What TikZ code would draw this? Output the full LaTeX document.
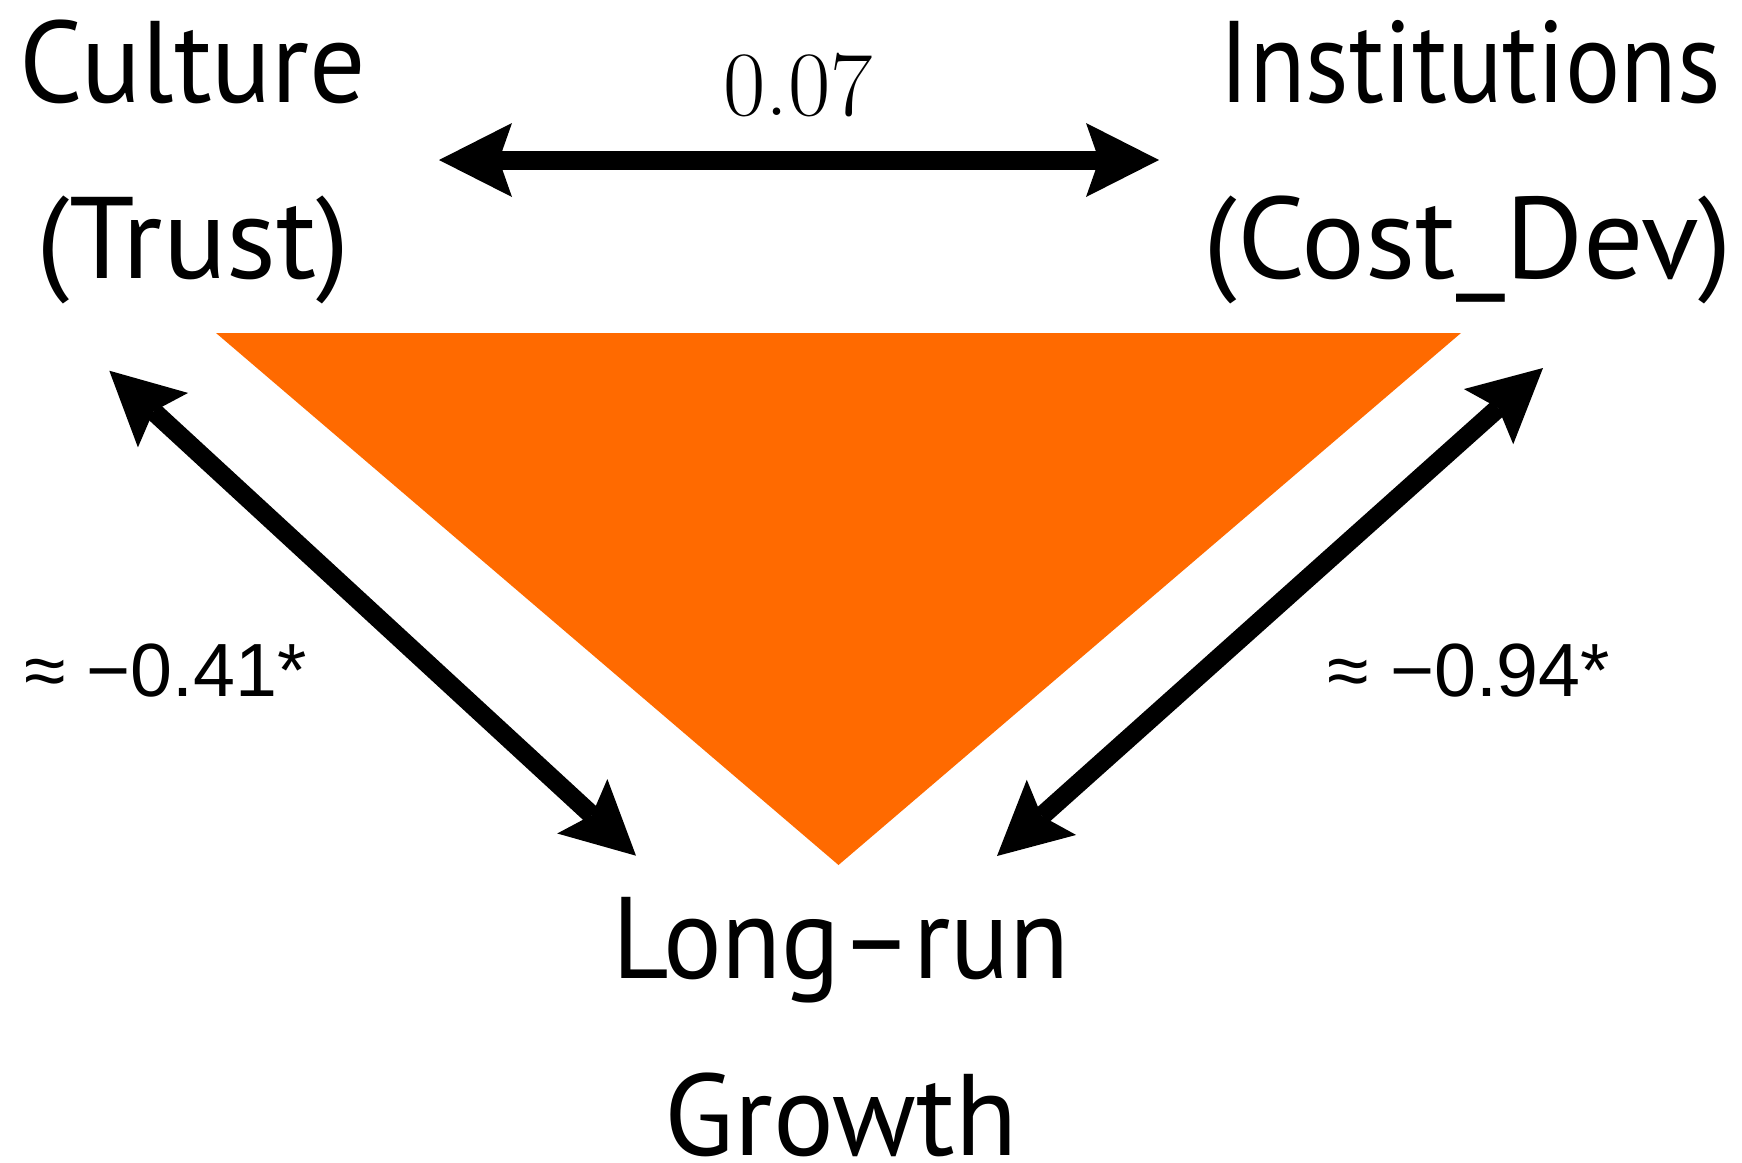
\documentclass[tikz,border=0pt]{standalone}
\usepackage{fontspec}
\setmainfont{PT Sans}
\newfontfamily\numfont{Liberation Sans}
\usetikzlibrary{arrows.meta}
\definecolor{triorange}{RGB}{255,106,0}
\newcommand{\xs}[2]{\scalebox{#1}[1]{#2}}
\tikzset{
  lbl/.style={anchor=base, inner sep=0pt, font=\fontsize{58pt}{70pt}\selectfont},
  coef/.style={anchor=base, inner sep=0pt, font=\numfont\fontsize{37.7pt}{44pt}\selectfont},
  topcoef/.style={anchor=base, inner sep=0pt, font=\fontfamily{lmr}\selectfont\fontsize{46pt}{54pt}\selectfont},
  dbl/.style={line width=9.5pt,
    {Stealth[length=36.5pt,width=37pt,inset=6.5pt,line width=0pt]}-{Stealth[length=36.5pt,width=37pt,inset=6.5pt,line width=0pt]}}
}
\begin{document}
\begin{tikzpicture}[x=0.5pt,y=-0.5pt]
\useasboundingbox (0,0) rectangle (1742,1163);
% triangle
\fill[triorange] (216,333) -- (1461,333) -- (838.5,865) -- cycle;
% labels
\node[lbl] (culture) at (193,102) {\xs{0.96}{Culture}};
\node[lbl] (trust) at (193,278) {\xs{1.02}{(Trust)}};
\node[lbl] (inst) at (1470,102) {\xs{0.89}{Institutions}};
\node[lbl] (costdev) at (1468,278) {\xs{1.03}{(Cost\_Dev)}};
\node[lbl] (longrun) at (841,978) {\xs{0.945}{Long–run}};
\node[lbl] (growth) at (841,1155) {\xs{0.98}{Growth}};
\node[topcoef] (c07) at (798,115) {0.07};
\node[coef] (c41) at (165.5,696) {≈ −0.41*};
\node[coef] (c94) at (1469,696) {≈ −0.94*};
% arrow end points
\coordinate (tl) at (439,160);
\coordinate (tr) at (1159,160);
\coordinate (la) at (109.3,370.7);
\coordinate (lb) at (636,855.7);
\coordinate (ra) at (1543,368);
\coordinate (rb) at (997,856);
\draw[dbl] (tl) -- (tr);
\draw[dbl] (la) -- (lb);
\draw[dbl] (ra) -- (rb);
\end{tikzpicture}
\end{document}
